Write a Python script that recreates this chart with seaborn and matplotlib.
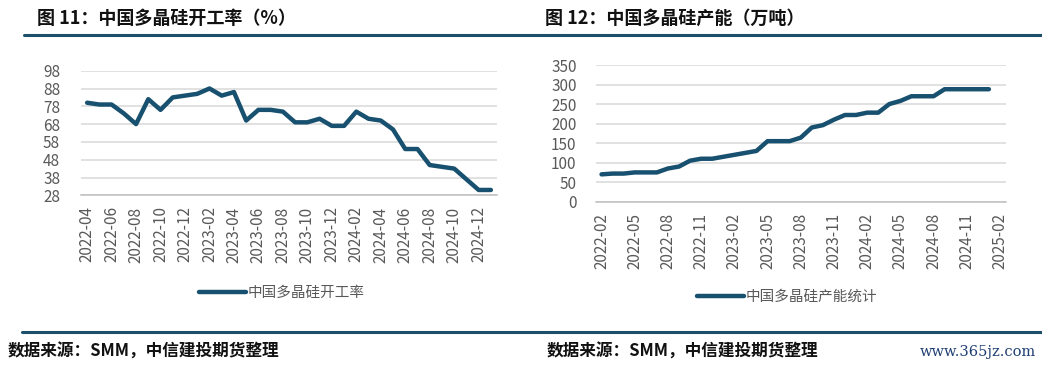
import numpy as np
import pandas as pd
import matplotlib
matplotlib.use('Agg')
import matplotlib.pyplot as plt
from matplotlib.lines import Line2D
import seaborn as sns

# left chart: monthly operating rate (%), 2022-04 .. 2025-01
rate_months = pd.period_range('2022-04', '2025-01', freq='M').strftime('%Y-%m').tolist()
rate_values = [80, 79, 79, 74, 68, 82, 76, 83, 84, 85, 88, 84, 86, 70, 76, 76, 75, 69,
               69, 71, 67, 67, 75, 71, 70, 65, 54, 54, 45, 44, 43, 37, 31, 31]
rate_yticks = [28, 38, 48, 58, 68, 78, 88, 98]

# right chart: capacity (10k tons), 2022-02 .. 2025-01, axis runs to 2025-02
cap_months = pd.period_range('2022-02', '2025-02', freq='M').strftime('%Y-%m').tolist()
cap_values = [70, 72, 72, 75, 75, 75, 85, 90, 105, 110, 110, 115, 120, 125, 130, 155,
              155, 155, 164, 190, 196, 210, 222, 222, 228, 228, 250, 258, 270, 270, 270,
              288, 288, 288, 288, 288]
cap_yticks = [0, 50, 100, 150, 200, 250, 300, 350]

title_left = '图 11：中国多晶硅开工率（%）'
title_right = '图 12：中国多晶硅产能（万吨）'
legend_left = '中国多晶硅开工率'
legend_right = '中国多晶硅产能统计'
source = '数据来源：SMM，中信建投期货整理'

LINE = '#18506f'
RULE = '#1d4f6a'
GREY = '#595959'

sns.set_style('white')
plt.rcParams['font.family'] = ['Noto Sans CJK SC', 'DejaVu Sans']

fig = plt.figure(figsize=(10.42, 3.67), dpi=100)
W, H = 1042, 367


def px_axes(x0, x1, ytop, ybot):
    return fig.add_axes([x0 / W, 1 - ybot / H, (x1 - x0) / W, (ybot - ytop) / H])


def style_axis(ax, yticks, ypad):
    ax.set_ylim(yticks[0], yticks[-1])
    ax.set_yticks(yticks)
    ax.yaxis.grid(True, color='#d9d9d9', linewidth=1.1)
    ax.set_axisbelow(True)
    for side in ['top', 'right', 'left']:
        ax.spines[side].set_visible(False)
    ax.spines['bottom'].set_color('#bfbfbf')
    ax.spines['bottom'].set_linewidth(1.1)
    ax.tick_params(axis='y', length=0, pad=ypad, labelsize=11, labelcolor=GREY)
    ax.tick_params(axis='x', which='major', length=0, pad=8, labelsize=11,
                   labelcolor=GREY, rotation=90)
    ax.tick_params(axis='x', which='minor', length=5, color='#bfbfbf', width=1.1)
    ax.set_xlabel('')
    ax.set_ylabel('')


# ---- left: operating rate
ax1 = px_axes(81, 497, 70.7, 195.3)
x1 = np.arange(len(rate_values))
sns.lineplot(x=x1, y=rate_values, ax=ax1, color=LINE, linewidth=3.2, label=legend_left)
ax1.set_xlim(-0.5, len(rate_values) - 0.5)
ax1.set_xticks(x1[::2])
ax1.set_xticklabels(rate_months[::2])
ax1.set_xticks(np.arange(-0.5, len(rate_values), 2), minor=True)
style_axis(ax1, rate_yticks, 15)
ax1.legend(loc='center', bbox_to_anchor=(282 / W, 1 - 293 / H), bbox_transform=fig.transFigure,
           frameon=False, fontsize=10.5, handlelength=3.2, handletextpad=0.1,
           labelcolor=GREY)

# ---- right: capacity
ax2 = px_axes(596, 1005.5, 65, 201.7)
x2 = np.arange(len(cap_values))
sns.lineplot(x=x2, y=cap_values, ax=ax2, color=LINE, linewidth=3.2, label=legend_right)
ax2.set_xlim(-0.5, len(cap_months) - 0.5)
ax2.set_xticks(np.arange(0, len(cap_months), 3))
ax2.set_xticklabels(cap_months[::3])
ax2.set_xticks(np.append(np.arange(-0.5, len(cap_months), 3), len(cap_months) - 0.5), minor=True)
style_axis(ax2, cap_yticks, 14)
ax2.legend(loc='center', bbox_to_anchor=(787 / W, 1 - 297 / H), bbox_transform=fig.transFigure,
           frameon=False, fontsize=10.5, handlelength=3.2, handletextpad=0.1,
           labelcolor=GREY)

# ---- titles, rules, source notes
fig.text(37 / W, 1 - 18 / H, title_left, fontsize=13, fontweight='bold', va='center', color='#111111')
fig.text(545 / W, 1 - 18 / H, title_right, fontsize=13, fontweight='bold', va='center', color='#111111')
fig.add_artist(Line2D([24 / W, 1], [1 - 35 / H] * 2, color=RULE, linewidth=2.2))
fig.add_artist(Line2D([22 / W, 1], [1 - 332 / H] * 2, color=RULE, linewidth=2.2))
fig.text(8 / W, 1 - 352 / H, source, fontsize=12, fontweight='bold', style='italic',
         va='center', color='#111111')
fig.text(547 / W, 1 - 352 / H, source, fontsize=12, fontweight='bold', style='italic',
         va='center', color='#111111')
fig.text(1036 / W, 1 - 352 / H, 'www.365jz.com', fontsize=10.5, family='DejaVu Serif',
         ha='right', va='center', color='#1f3f73')

fig.savefig('out.png', dpi=100)
